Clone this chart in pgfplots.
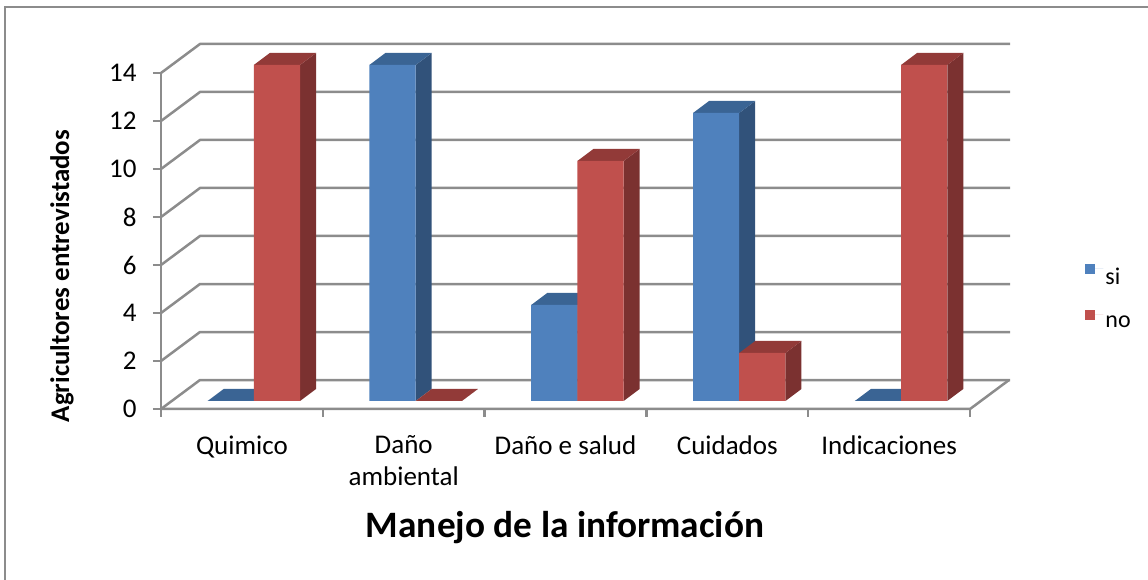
\documentclass[border=0pt]{standalone}
\usepackage{pgfplots}
\usepackage{pgfplotstable}
\usepackage{fontspec}
\setmainfont{Carlito}
\pgfplotsset{compat=1.18}
\definecolor{cBlue}{HTML}{4F81BD}
\definecolor{cBlueS}{HTML}{31527A}
\definecolor{cBlueT}{HTML}{3A6494}
\definecolor{cRed}{HTML}{C0504D}
\definecolor{cRedS}{HTML}{7B3130}
\definecolor{cRedT}{HTML}{923A38}
\definecolor{cGrid}{HTML}{8C8C8C}
\pgfplotstableread{
x   si  no
0.5 0   14
1.5 14  0
2.5 4   10
3.5 12  2
4.5 0   14
}\datatable
% side and top faces of one bar: x, value, shift(pt), side colour, top colour
\newcommand\faces[5]{%
  \pgfmathsetmacro\xl{#1-0.1428}%
  \pgfmathsetmacro\xr{#1+0.1428}%
  \pgfmathsetmacro\xlb{#1-0.1428+0.0989}%
  \pgfmathsetmacro\xrb{#1+0.1428+0.0989}%
  \pgfmathsetmacro\vb{#2+0.5}%
  \addplot[fill=#4,draw=none,forget plot,xshift=#3pt,yshift=8pt]
    coordinates {(\xr,0) (\xrb,0.5) (\xrb,\vb) (\xr,#2)} --cycle;
  \addplot[fill=#5,draw=none,forget plot,xshift=#3pt,yshift=8pt]
    coordinates {(\xl,#2) (\xr,#2) (\xrb,\vb) (\xlb,\vb)} --cycle;
}
% one gridline: front value, value on back wall
\newcommand\wall[2]{%
  \addplot[cGrid,line width=2.5pt,forget plot,line join=round]
    coordinates {(0,#1) (0.241,#2) (5.247,#2)};
}
\begin{document}
\begin{tikzpicture}[x=1pt,y=1pt]
\path[use as bounding box] (0,0) rectangle (1148,580);
\draw[cGrid,line width=2.8pt] (1148,573) -- (5,573) -- (5,0);
\begin{axis}[
  at={(161pt,171pt)}, anchor=south west,
  scale only axis, width=849pt, height=365pt,
  xmin=0, xmax=5.247, ymin=0, ymax=15.208,
  clip=false,
  axis line style={draw=none},
  tick align=outside,
  xtick pos=bottom, ytick pos=left,
  tick style={cGrid,line width=2.5pt},
  major tick length=8pt,
  ytick={0,2,...,14},
  xtick={0,1,2,3,4,5},
  xticklabels={},
  extra x ticks={0.5,1.5,2.5,3.5,4.5},
  extra x tick labels={Quimico,{Daño\\[2pt]ambiental},Daño e salud,Cuidados,Indicaciones},
  extra x tick style={major tick length=0pt,tick style={draw=none}},
  x tick label style={align=center,font=\fontsize{27}{30}\selectfont,yshift=-23pt},
  y tick label style={font=\fontsize{27}{30}\selectfont,xshift=-13pt},
  /pgf/number format/assume math mode=true,
  xlabel={Manejo de la información},
  ylabel={Agricultores entrevistados},
  xlabel style={at={(axis cs:2.497,0)},anchor=center,yshift=-119pt,font=\bfseries\fontsize{37.3}{42}\selectfont},
  ylabel style={at={(axis cs:-0.612,5.54)},anchor=center,rotate=0,font=\bfseries\fontsize{26.9}{31}\selectfont},
  legend style={at={(axis cs:5.712,6.07)},anchor=north west,draw=none,fill=none,
    font=\fontsize{24}{28}\selectfont,row sep=22pt,inner sep=0pt},
  legend cell align=left,
  legend image code/.code={\fill[#1] (0pt,-5pt) rectangle (10pt,5pt);\path (0pt,0pt) -- (18pt,0pt);},
]
\wall{0}{1.208}
\wall{2}{3.208}
\wall{4}{5.208}
\wall{6}{7.208}
\wall{8}{9.208}
\wall{10}{11.208}
\wall{12}{13.208}
\wall{14}{15.208}
\addplot[cGrid,line width=2.5pt,forget plot,line join=round]
  coordinates {(0,0) (0,14)};
\addplot[cGrid,line width=2.5pt,forget plot,line join=round]
  coordinates {(0,0) (5,0) (5.241,1.208)};
% blue series
\faces{0.5}{0}{-11.2}{cBlueS}{cBlueT}
\faces{1.5}{14}{-11.2}{cBlueS}{cBlueT}
\faces{2.5}{4}{-11.2}{cBlueS}{cBlueT}
\faces{3.5}{12}{-11.2}{cBlueS}{cBlueT}
\faces{4.5}{0}{-11.2}{cBlueS}{cBlueT}
\addplot[ybar,bar width=46.2pt,bar shift=-11.2pt,fill=cBlue,draw=none,yshift=8pt] table[x=x,y=si] {\datatable};
\addlegendentry{si}
% red series
\faces{0.5}{14}{35}{cRedS}{cRedT}
\faces{1.5}{0}{35}{cRedS}{cRedT}
\faces{2.5}{10}{35}{cRedS}{cRedT}
\faces{3.5}{2}{35}{cRedS}{cRedT}
\faces{4.5}{14}{35}{cRedS}{cRedT}
\addplot[ybar,bar width=46.2pt,bar shift=35pt,fill=cRed,draw=none,yshift=8pt] table[x=x,y=no] {\datatable};
\addlegendentry{no}
\end{axis}
\end{tikzpicture}
\end{document}
